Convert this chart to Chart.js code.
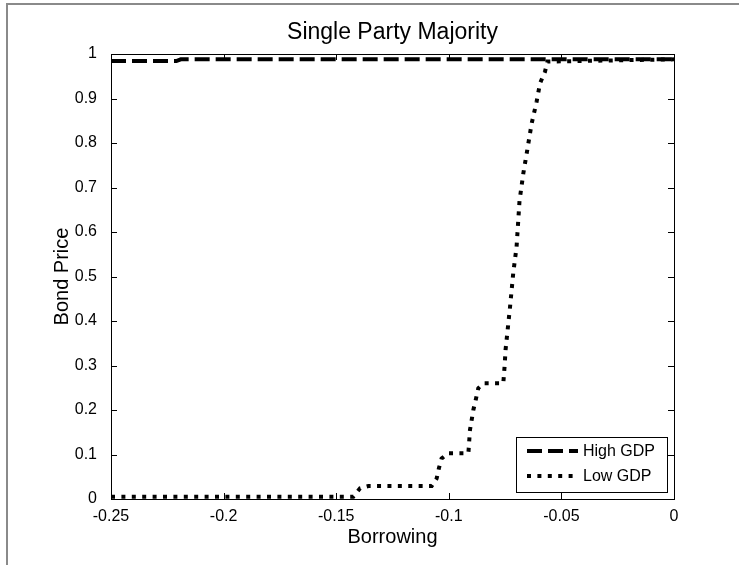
<!DOCTYPE html>
<html>
<head>
<meta charset="utf-8">
<script src="https://cdn.jsdelivr.net/npm/chart.js@4.4.0/dist/chart.umd.min.js"></script>
<style>
  html, body { margin: 0; padding: 0; background: #fff; overflow: hidden; }
  #wrap { position: relative; width: 739px; height: 565px; }
  #frame { position: absolute; left: 6px; top: 3px; width: 800px; height: 600px;
           border-top: 2px solid #8a8a8a; border-left: 2px solid #8a8a8a; pointer-events: none; }
  canvas { position: absolute; left: 0; top: 0; }
</style>
</head>
<body>
<div id="wrap">
  <canvas id="bondChart" width="739" height="565"></canvas>
  <div id="frame"></div>
</div>
<script>
// 그림에서 읽은 값들
const borrowingHigh = [-0.25, -0.221, -0.219, 0];
const priceHigh = [0.984, 0.984, 0.988, 0.988];

const borrowingLow = [-0.25, -0.1424, -0.1394, -0.1357, -0.1076, -0.1054, -0.1044, -0.1032, -0.1002,
    -0.0913, -0.0906, -0.0891, -0.0879, -0.0869, -0.0847, -0.0758, -0.0752, -0.0748, -0.0728,
    -0.0714, -0.0699, -0.0686, -0.0669, -0.0654, -0.0632, -0.061, -0.0595, -0.0573, -0.0562, 0];
const priceLow = [0.005, 0.005, 0.024, 0.029, 0.029, 0.046, 0.069, 0.091, 0.103,
    0.103, 0.155, 0.2, 0.226, 0.249, 0.26, 0.26, 0.3, 0.335, 0.432,
    0.507, 0.567, 0.67, 0.732, 0.777, 0.844, 0.893, 0.934, 0.96, 0.983, 0.988];

const xTicks = [-0.25, -0.2, -0.15, -0.1, -0.05, 0];
const xTickLabels = ['-0.25', '-0.2', '-0.15', '-0.1', '-0.05', '0'];
const yTicks = [0, 0.1, 0.2, 0.3, 0.4, 0.5, 0.6, 0.7, 0.8, 0.9, 1];
const yTickLabels = ['0', '0.1', '0.2', '0.3', '0.4', '0.5', '0.6', '0.7', '0.8', '0.9', '1'];

const FONT = '"Liberation Sans", Arial, sans-serif';

// 박스 테두리 + 안쪽 눈금 (MATLAB 스타일)
const axesBoxPlugin = {
    id: 'axesBox',
    afterDatasetsDraw(chart) {
        const { ctx, chartArea: a, scales } = chart;
        const t = 6;
        ctx.save();
        ctx.strokeStyle = '#000';
        ctx.lineWidth = 1;
        ctx.beginPath();
        xTicks.forEach(v => {
            const px = Math.round(scales.x.getPixelForValue(v)) + 0.5;
            ctx.moveTo(px, a.bottom); ctx.lineTo(px, a.bottom - t);
            ctx.moveTo(px, a.top); ctx.lineTo(px, a.top + t);
        });
        yTicks.forEach(v => {
            const py = Math.round(scales.y.getPixelForValue(v)) + 0.5;
            ctx.moveTo(a.left, py); ctx.lineTo(a.left + t, py);
            ctx.moveTo(a.right, py); ctx.lineTo(a.right - t, py);
        });
        ctx.stroke();
        ctx.strokeRect(Math.round(a.left) + 0.5, Math.round(a.top) + 0.5,
            Math.round(a.right - a.left), Math.round(a.bottom - a.top));
        ctx.restore();
    }
};

// 오른쪽 아래 범례 상자
const legendBoxPlugin = {
    id: 'legendBox',
    afterDraw(chart) {
        const { ctx, chartArea: a } = chart;
        const w = 151, h = 55;
        const x0 = Math.round(a.right) - 158, y0 = Math.round(a.bottom) - 62;
        ctx.save();
        ctx.fillStyle = '#fff';
        ctx.fillRect(x0, y0, w, h);
        ctx.strokeStyle = '#000';
        ctx.lineWidth = 1;
        ctx.strokeRect(x0 + 0.5, y0 + 0.5, w, h);
        chart.data.datasets.forEach((ds, i) => {
            const ly = y0 + 14 + i * 25;
            ctx.beginPath();
            ctx.setLineDash(ds.borderDash);
            ctx.lineWidth = ds.borderWidth;
            ctx.lineCap = 'butt';
            ctx.moveTo(x0 + 11, ly);
            ctx.lineTo(x0 + 62, ly);
            ctx.stroke();
            ctx.setLineDash([]);
            ctx.fillStyle = '#000';
            ctx.font = '16px ' + FONT;
            ctx.textBaseline = 'middle';
            ctx.textAlign = 'left';
            ctx.fillText(ds.label, x0 + 67, ly + 1);
        });
        ctx.restore();
    }
};

const toPoints = (xs, ys) => xs.map((x, i) => ({ x: x, y: ys[i] }));

new Chart(document.getElementById('bondChart'), {
    type: 'line',
    data: {
        datasets: [{
            label: 'High GDP',
            data: toPoints(borrowingHigh, priceHigh),
            borderColor: '#000',
            borderWidth: 4,
            borderDash: [15, 6],
            pointRadius: 0,
            tension: 0,
            fill: false
        }, {
            label: 'Low GDP',
            data: toPoints(borrowingLow, priceLow),
            borderColor: '#000',
            borderWidth: 4,
            borderDash: [4, 6.4],
            pointRadius: 0,
            tension: 0,
            fill: false
        }]
    },
    plugins: [axesBoxPlugin, legendBoxPlugin],
    options: {
        responsive: false,
        animation: false,
        devicePixelRatio: 1,
        layout: { padding: { left: 0, right: 65, top: 0, bottom: 0 } },
        plugins: {
            legend: { display: false },
            tooltip: { enabled: false },
            title: {
                display: true,
                text: 'Single Party Majority',
                fullSize: false,
                color: '#000',
                font: { family: FONT, size: 23, weight: 'normal', lineHeight: 1.2 },
                padding: { top: 19, bottom: 7.4 }
            }
        },
        scales: {
            x: {
                type: 'linear',
                min: -0.25,
                max: 0,
                grid: { display: false },
                border: { display: false },
                afterBuildTicks: s => { s.ticks = xTicks.map(v => ({ value: v })); },
                afterFit: s => { s.height = 66; s.paddingLeft = 0; s.paddingRight = 0; },
                ticks: {
                    color: '#000',
                    padding: 0,
                    maxRotation: 0,
                    font: { family: FONT, size: 16 },
                    callback: (v, i) => xTickLabels[i]
                },
                title: {
                    display: true,
                    text: 'Borrowing',
                    color: '#000',
                    font: { family: FONT, size: 20, lineHeight: 1.2 },
                    padding: { top: 0, bottom: 15.6 }
                }
            },
            y: {
                min: 0,
                max: 1,
                grid: { display: false },
                border: { display: false },
                afterBuildTicks: s => { s.ticks = yTicks.map(v => ({ value: v })); },
                afterFit: s => { s.width = 111; s.paddingTop = 0; s.paddingBottom = 0; },
                ticks: {
                    color: '#000',
                    padding: 6,
                    font: { family: FONT, size: 16 },
                    callback: (v, i) => yTickLabels[i]
                },
                title: {
                    display: true,
                    text: 'Bond Price',
                    color: '#000',
                    font: { family: FONT, size: 20, lineHeight: 1.2 },
                    padding: { top: 50.4, bottom: 0 }
                }
            }
        }
    }
});
</script>
</body>
</html>
